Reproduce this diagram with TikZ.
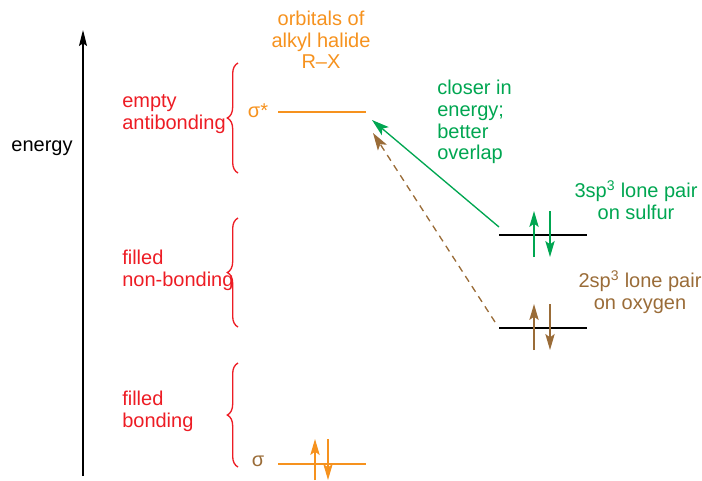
\documentclass[tikz,border=0pt]{standalone}
\usepackage{fontspec}
\setmainfont{Liberation Sans}
\usetikzlibrary{arrows.meta, decorations.pathreplacing}
\definecolor{halide}{RGB}{246,146,30}
\definecolor{region}{RGB}{237,28,36}
\definecolor{sulfur}{RGB}{0,166,81}
\definecolor{oxygen}{RGB}{154,108,56}

\begin{document}
\begin{tikzpicture}[
  x=0.75pt, y=-0.75pt,
  txt/.style={font=\fontsize{15}{16.3}\selectfont, inner sep=0pt},
  regionlabel/.style={txt, text=region, align=left, anchor=west},
  level/.style={line width=2.2pt},
  electron/.style={-{Stealth[length=12pt,width=7pt,inset=2.5pt]}, line width=1pt},
  curly/.style={draw=region, line width=1pt, decorate,
                decoration={brace, amplitude=8pt}},
  attack/.style={-{Stealth[length=13pt,width=8pt,inset=3pt]}, line width=1pt}
]
\useasboundingbox (0,0) rectangle (702,480);

% Energy axis
\coordinate (axisbot) at (83,476);
\coordinate (axistop) at (83,30);
\draw[-{Stealth[length=12pt,width=6pt,inset=2pt]}, line width=0.8pt] (axisbot) -- (axistop);
\node[txt] (energy) at (42,148) {energy};

% Alkyl halide orbitals
\node[txt, text=halide, align=center] (halide) at (321,40) {orbitals of\\alkyl halide\\R–X};
\coordinate (sstarL) at (278,112);
\coordinate (sstarR) at (366,112);
\draw[level, halide] (sstarL) -- (sstarR);
\node[txt, text=halide] (sstar) at (258,111) {σ*};
\coordinate (sigL) at (278,464);
\coordinate (sigR) at (366,464);
\draw[level, halide] (sigL) -- (sigR);
\node[txt, text=oxygen] (sig) at (258,461) {σ};
\draw[electron, halide] (315,480) -- (315,439);
\draw[electron, halide] (328,439) -- (328,480);

% Braces and region labels
\draw[curly] (238,173) -- (238,63);
\draw[curly] (238,327) -- (238,218);
\draw[curly] (238,467) -- (238,363);
\node[regionlabel] (empty) at (122,114) {empty\\antibonding};
\node[regionlabel] (nonbond) at (122,270) {filled\\non-bonding};
\node[regionlabel] (bond) at (122,411) {filled\\bonding};

% Sulfur lone pair
\coordinate (sulL) at (499,235);
\coordinate (sulR) at (587,235);
\draw[level] (sulL) -- (sulR);
\draw[electron, sulfur] (534,257) -- (534,211);
\draw[electron, sulfur] (550,211) -- (550,257);
\node[txt, text=sulfur, align=center] (sullabel) at (636,200) {3sp\textsuperscript{3} lone pair\\on sulfur};

% Oxygen lone pair
\coordinate (oxL) at (499,328);
\coordinate (oxR) at (587,328);
\draw[level] (oxL) -- (oxR);
\draw[electron, oxygen] (534,350) -- (534,304);
\draw[electron, oxygen] (550,304) -- (550,350);
\node[txt, text=oxygen, align=center] (oxlabel) at (640,292) {2sp\textsuperscript{3} lone pair\\on oxygen};

% Interactions with sigma*
\coordinate (sultail) at (499,227);
\coordinate (sulhead) at (372,120);
\coordinate (oxtail) at (495,322);
\coordinate (oxhead) at (373,133);
\draw[attack, sulfur] (sultail) -- (sulhead);
\draw[attack, oxygen, dashed, dash pattern=on 5pt off 4pt] (oxtail) -- (oxhead);
\node[txt, text=sulfur, align=left, anchor=west] (closer) at (437,122) {closer in\\energy;\\better\\overlap};

\end{tikzpicture}
\end{document}
